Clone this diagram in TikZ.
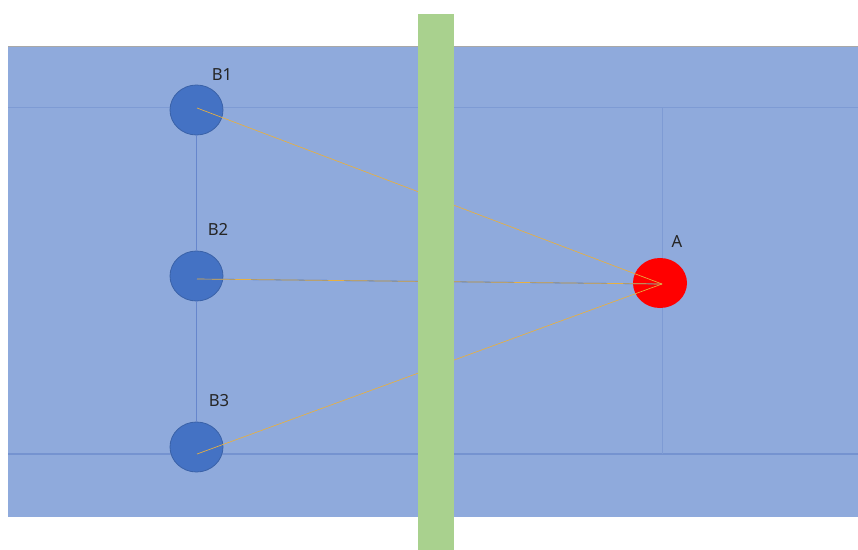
\documentclass[tikz,border=0pt]{standalone}
\usepackage{fontspec}
\usetikzlibrary{shapes.geometric}
\setmainfont{Noto Sans}
\definecolor{bgblue}{HTML}{8FAADC}
\definecolor{cblue}{HTML}{4472C4}
\definecolor{cborder}{HTML}{3A62A8}
\definecolor{gridblue}{HTML}{7E9BD4}
\definecolor{gridblue2}{HTML}{7593D0}
\definecolor{vline}{HTML}{6686CC}
\definecolor{barg}{HTML}{A9D18E}
\definecolor{gold}{HTML}{E8B040}
\definecolor{topgray}{HTML}{A8A8A8}
\begin{document}
\begin{tikzpicture}[x=0.75pt,y=-0.75pt,
  bnode/.style={ellipse,fill=cblue,draw=cborder,line width=0.6pt,minimum width=39.75pt,minimum height=37.5pt,inner sep=0pt},
  anode/.style={ellipse,fill=red,draw=none,minimum width=40.5pt,minimum height=37.5pt,inner sep=0pt},
  lbl/.style={font=\fontsize{12.5}{14}\selectfont,text=black!85,inner sep=0pt},
  ray/.style={draw=gold,line width=0.5pt},
  grid/.style={draw=gridblue,line width=0.5pt}]
\useasboundingbox (0,0) rectangle (858,550);
\fill[bgblue] (8,46) rectangle (858,517);
\draw[topgray,line width=0.8pt] (8,46.5) -- (858,46.5);
% grid lines
\draw[grid] (8,107) -- (858,107);
\draw[draw=gridblue2,line width=1pt] (8,454) -- (858,454);
\coordinate (v1) at (662,107);
\coordinate (v2) at (662,454);
\draw[grid] (v1) -- (v2);
\coordinate (c1) at (197,108);
\coordinate (c2) at (197,279);
\coordinate (c3) at (197,454);
\coordinate (ca) at (662,284);
% nodes
\node[bnode] (b1) at (196.5,110) {};
\node[bnode] (b2) at (196.5,276) {};
\node[bnode] (b3) at (196.5,447) {};
\node[anode] (a) at (660,283) {};
\draw[draw=vline,line width=0.5pt] (b1.south) -- (b2.north) (b2.south) -- (b3.north);
% rays
\draw[draw=cblue,line width=0.6pt] (c2) -- (ca);
\draw[ray] (c1) -- (ca);
\draw[ray] (c2) -- (ca);
\draw[ray] (c3) -- (ca);
% bar
\fill[barg] (418,14) rectangle (454,550);
% labels
\node[lbl] (l1) at (222,75) {B1};
\node[lbl] (l2) at (218,229) {B2};
\node[lbl] (l3) at (219,401) {B3};
\node[lbl] (la) at (677,242) {A};
\end{tikzpicture}
\end{document}
